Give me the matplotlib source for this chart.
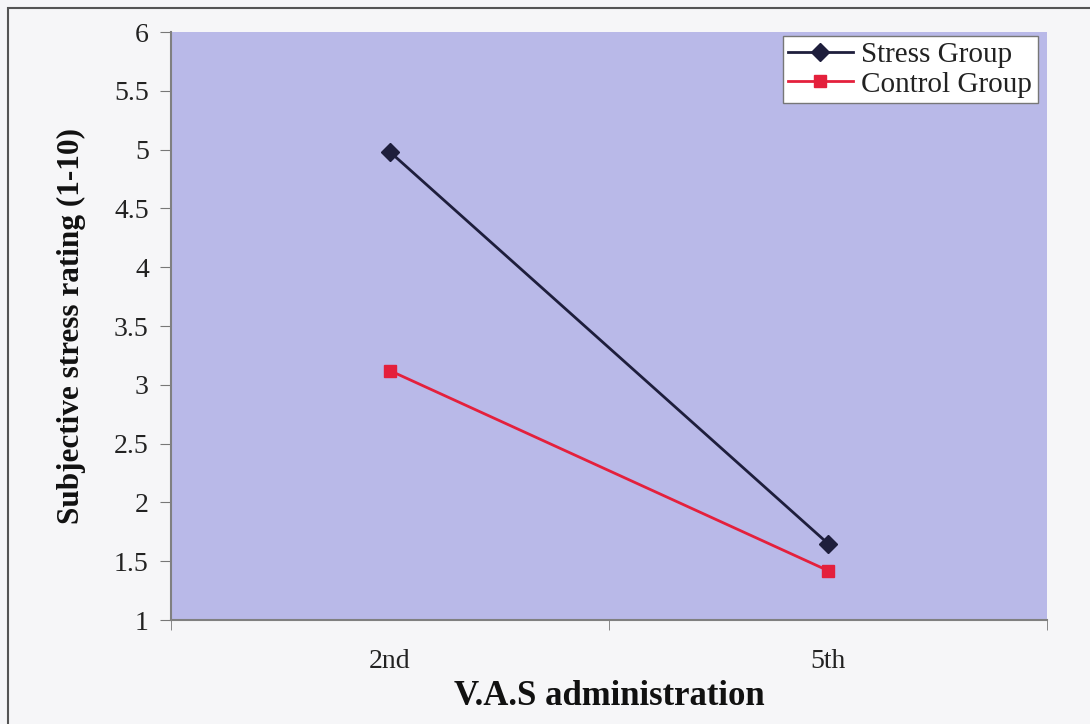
import matplotlib.pyplot as plt
from matplotlib.patches import Rectangle

# data
administrations = ['2nd', '5th']
stress_group = [4.98, 1.65]
control_group = [3.12, 1.42]

plt.rcParams['font.family'] = ['Liberation Serif', 'DejaVu Serif']

fig = plt.figure(figsize=(10.9, 7.24), dpi=100, facecolor='#f6f6f8')
# outer chart frame (Excel style)
fig.patches.append(Rectangle((8 / 1090, -0.01), 1.1, 1 - 8 / 724 + 0.01,
                             transform=fig.transFigure, fill=False,
                             edgecolor='#555555', linewidth=1.5))

ax = fig.add_axes([171 / 1090, 1 - 620 / 724, 876 / 1090, 588 / 724])
ax.set_facecolor('#b9b9e8')

x = range(len(administrations))
ax.plot(x, stress_group, '-D', color='#1e1e3c', markersize=9, linewidth=2,
        label='Stress Group')
ax.plot(x, control_group, '-s', color='#e4203c', markersize=9, linewidth=2,
        label='Control Group')

ax.set_xlim(-0.5, 1.5)
ax.set_ylim(1, 6)
ax.set_yticks([1, 1.5, 2, 2.5, 3, 3.5, 4, 4.5, 5, 5.5, 6])
ax.set_yticklabels(['1', '1.5', '2', '2.5', '3', '3.5', '4', '4.5', '5', '5.5', '6'])
ax.set_xticks(x)
ax.set_xticklabels(administrations)
ax.set_xticks([-0.5, 0.5, 1.5], minor=True)
ax.tick_params(axis='x', which='major', length=0, labelsize=20, pad=21,
               labelcolor='#222222')
ax.tick_params(axis='x', which='minor', length=7, direction='out', color='#777777')
ax.tick_params(axis='y', length=8, direction='out', color='#777777',
               labelsize=20, pad=8, labelcolor='#222222')

for side in ['top', 'right']:
    ax.spines[side].set_visible(False)
for side in ['left', 'bottom']:
    ax.spines[side].set_color('#808080')
    ax.spines[side].set_linewidth(1.5)

ax.set_ylabel('Subjective stress rating (1-10)', fontsize=22.5, fontweight='bold',
              labelpad=20, color='#111111')
ax.set_xlabel('V.A.S administration', fontsize=25, fontweight='bold', labelpad=4,
              color='#111111')

leg = ax.legend(loc='upper right', bbox_to_anchor=(1.0 - 9 / 876, 1.0 - 4 / 588),
                fontsize=21, frameon=True, fancybox=False, handlelength=2.2,
                borderpad=0.2, labelspacing=0.1, handletextpad=0.3,
                borderaxespad=0)
leg.get_frame().set_edgecolor('#777777')
leg.get_frame().set_facecolor('white')
leg.get_frame().set_alpha(1)
for t in leg.get_texts():
    t.set_color('#222222')

fig.savefig('out.png', dpi=100, facecolor=fig.get_facecolor())
